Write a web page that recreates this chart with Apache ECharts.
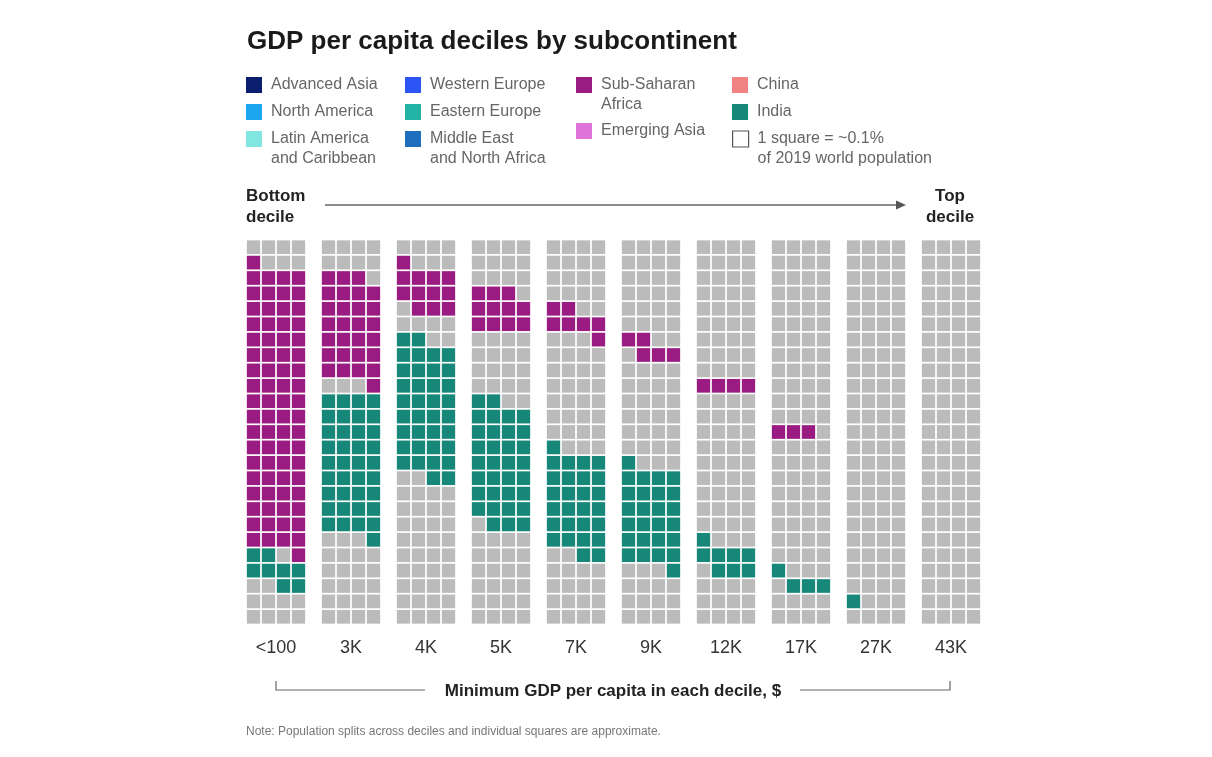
<!DOCTYPE html>
<html><head><meta charset="utf-8">
<script src="https://cdn.jsdelivr.net/npm/echarts@6/dist/echarts.min.js"></script>
<style>html,body{margin:0;padding:0;background:#fff}#chart{width:1212px;height:757px}</style>
</head><body><div id="chart"></div>
<script>
// ---------- DATA ----------
const decileLabels = ['<100', '3K', '4K', '5K', '7K', '9K', '12K', '17K', '27K', '43K'];

// Each decile: 25 rows (top -> bottom) of 4 squares.
// S = Sub-Saharan Africa, I = India, . = other subcontinents
const decile1 = ['....','S...','SSSS','SSSS','SSSS','SSSS','SSSS','SSSS','SSSS','SSSS','SSSS','SSSS','SSSS','SSSS','SSSS','SSSS','SSSS','SSSS','SSSS','SSSS','II.S','IIII','..II','....','....'];
const decile2 = ['....','....','SSS.','SSSS','SSSS','SSSS','SSSS','SSSS','SSSS','...S','IIII','IIII','IIII','IIII','IIII','IIII','IIII','IIII','IIII','...I','....','....','....','....','....'];
const decile3 = ['....','S...','SSSS','SSSS','.SSS','....','II..','IIII','IIII','IIII','IIII','IIII','IIII','IIII','IIII','..II','....','....','....','....','....','....','....','....','....'];
const decile4 = ['....','....','....','SSS.','SSSS','SSSS','....','....','....','....','II..','IIII','IIII','IIII','IIII','IIII','IIII','IIII','.III','....','....','....','....','....','....'];
const decile5 = ['....','....','....','....','SS..','SSSS','...S','....','....','....','....','....','....','I...','IIII','IIII','IIII','IIII','IIII','IIII','..II','....','....','....','....'];
const decile6 = ['....','....','....','....','....','....','SS..','.SSS','....','....','....','....','....','....','I...','IIII','IIII','IIII','IIII','IIII','IIII','...I','....','....','....'];
const decile7 = ['....','....','....','....','....','....','....','....','....','SSSS','....','....','....','....','....','....','....','....','....','I...','IIII','.III','....','....','....'];
const decile8 = ['....','....','....','....','....','....','....','....','....','....','....','....','SSS.','....','....','....','....','....','....','....','....','I...','.III','....','....'];
const decile9 = ['....','....','....','....','....','....','....','....','....','....','....','....','....','....','....','....','....','....','....','....','....','....','....','I...','....'];
const decile10 = ['....','....','....','....','....','....','....','....','....','....','....','....','....','....','....','....','....','....','....','....','....','....','....','....','....'];
const deciles = [decile1, decile2, decile3, decile4, decile5, decile6, decile7, decile8, decile9, decile10];

const regionNames = ['Advanced Asia', 'North America', 'Latin America and Caribbean', 'Western Europe', 'Eastern Europe', 'Middle East and North Africa', 'Sub-Saharan Africa', 'Emerging Asia', 'China', 'India'];
const regionColors = ['#0c1f6e', '#1ba6ef', '#80e6df', '#2b55f5', '#22b3a6', '#1b6fbd', '#9a1c82', '#e072dc', '#f08281', '#17877a'];
const regionCodes = {'S': 'Sub-Saharan Africa', 'I': 'India', '.': 'Other'};
const scaleNote = '1 square = ~0.1% of 2019 world population';

// ---------- LAYOUT ----------
const FONT = '"Liberation Sans", Arial, sans-serif';
const OTHER_COLOR = '#bbbbbb';
const legendLabel = {
  'Latin America and Caribbean': 'Latin America\nand Caribbean',
  'Middle East and North Africa': 'Middle East\nand North Africa',
  'Sub-Saharan Africa': 'Sub-Saharan\nAfrica'
};
legendLabel[scaleNote] = '1 square = ~0.1%\nof 2019 world population';
const legendPos = {
  'Advanced Asia': [246, 77], 'North America': [246, 104], 'Latin America and Caribbean': [246, 131],
  'Western Europe': [405, 77], 'Eastern Europe': [405, 104], 'Middle East and North Africa': [405, 131],
  'Sub-Saharan Africa': [576, 77], 'Emerging Asia': [576, 123],
  'China': [732, 77], 'India': [732, 104]
};
legendPos[scaleNote] = [732, 131];

// build cell data per region
const cells = {'Other': []};
regionNames.forEach(n => cells[n] = []);
deciles.forEach((rows, d) => {
  rows.forEach((row, r) => {
    for (let c = 0; c < row.length; c++) {
      cells[regionCodes[row[c]]].push([d * 5 + c, r]);
    }
  });
});

function renderCell(params, api) {
  const x = api.value(0), y = api.value(1);
  const p0 = api.coord([x, y]);
  const p1 = api.coord([x + 1, y + 1]);
  const g = 0.85;
  return {
    type: 'rect',
    shape: {
      x: Math.min(p0[0], p1[0]) + g,
      y: Math.min(p0[1], p1[1]) + g,
      width: Math.abs(p1[0] - p0[0]) - 2 * g,
      height: Math.abs(p1[1] - p0[1]) - 2 * g
    },
    style: api.style()
  };
}

const series = [{
  name: 'Other', type: 'custom', renderItem: renderCell, data: cells['Other'],
  itemStyle: {color: OTHER_COLOR}, silent: true
}];
regionNames.forEach((n, i) => {
  series.push({name: n, type: 'custom', renderItem: renderCell, data: cells[n],
    itemStyle: {color: regionColors[i]}, silent: true});
});
series.push({name: scaleNote, type: 'custom', renderItem: renderCell, data: [],
  itemStyle: {color: '#ffffff', borderColor: '#555', borderWidth: 1}});

// Multi-line legend labels: a leading blank line keeps the first text line level with the icon.
const legends = regionNames.concat([scaleNote]).map(n => {
  const label = legendLabel[n] || n;
  const multi = label.indexOf('\n') >= 0;
  const pos = legendPos[n];
  const lg = {
    data: [n], left: pos[0], top: pos[1] - (multi ? 22 : 2), padding: 0,
    orient: 'vertical', icon: 'rect', itemWidth: 16, itemHeight: 16, selectedMode: false,
    formatter: () => (multi ? ' \n' + label : label),
    textStyle: {fontFamily: FONT, fontSize: 16, color: '#666', lineHeight: 20, padding: [0, 0, 0, 4]}
  };
  if (n === scaleNote) lg.itemStyle = {color: '#fff', borderColor: '#555', borderWidth: 1.2};
  return lg;
});

const chart = echarts.init(document.getElementById('chart'), null, {renderer: 'canvas'});
chart.setOption({
  animation: false,
  backgroundColor: '#ffffff',
  title: {
    text: 'GDP per capita deciles by subcontinent', left: 242, top: 24,
    textStyle: {fontFamily: FONT, fontSize: 26, fontWeight: 'bold', color: '#1a1a1a'}
  },
  legend: legends,
  grid: {left: 246, top: 239.5, width: 735, height: 385},
  xAxis: {
    type: 'value', min: 0, max: 49,
    axisLine: {show: false}, axisTick: {show: false}, splitLine: {show: false},
    axisLabel: {
      customValues: decileLabels.map((_, i) => i * 5 + 2),
      formatter: v => decileLabels[Math.round((v - 2) / 5)],
      margin: 15, fontFamily: FONT, fontSize: 18, color: '#333'
    }
  },
  yAxis: {type: 'value', min: 0, max: 25, inverse: true, show: false},
  series: series,
  graphic: [
    {type: 'text', left: 246, top: 186, style: {text: 'Bottom\ndecile', font: 'bold 17px ' + FONT, lineHeight: 21, fill: '#222'}},
    {type: 'text', x: 950, y: 186, style: {text: 'Top\ndecile', align: 'center', font: 'bold 17px ' + FONT, lineHeight: 21, fill: '#222'}},
    {type: 'line', shape: {x1: 325, y1: 205, x2: 898, y2: 205}, style: {stroke: '#666', lineWidth: 1.5}},
    {type: 'polygon', shape: {points: [[896, 200.5], [906, 205], [896, 209.5]]}, style: {fill: '#555'}},
    {type: 'polyline', shape: {points: [[276, 681], [276, 690], [425, 690]]}, style: {stroke: '#666', lineWidth: 1.2, fill: null}},
    {type: 'polyline', shape: {points: [[800, 690], [950, 690], [950, 681]]}, style: {stroke: '#666', lineWidth: 1.2, fill: null}},
    {type: 'text', x: 613, y: 691, style: {text: 'Minimum GDP per capita in each decile, $', align: 'center', verticalAlign: 'middle', font: 'bold 17px ' + FONT, fill: '#222'}},
    {type: 'text', x: 246, y: 732, style: {text: 'Note: Population splits across deciles and individual squares are approximate.', verticalAlign: 'middle', font: '12px ' + FONT, fill: '#777'}}
  ]
});
</script></body></html>
